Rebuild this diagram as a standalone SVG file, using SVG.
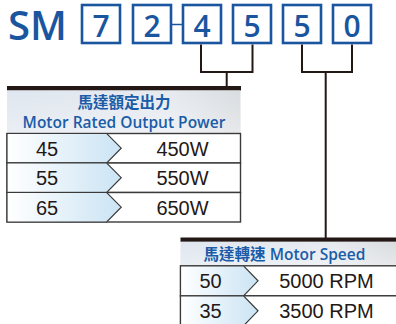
<svg xmlns="http://www.w3.org/2000/svg" width="396" height="324" viewBox="0 0 396 324">
<defs>
<linearGradient id="hdr" x1="0" y1="0" x2="1" y2="0">
<stop offset="0" stop-color="#dfe6ef"/>
<stop offset="0.7" stop-color="#e6eaf0"/>
<stop offset="1" stop-color="#d9dcdf"/>
</linearGradient>
<linearGradient id="hdrv" x1="0" y1="0" x2="0" y2="1">
<stop offset="0" stop-color="#ffffff" stop-opacity="0"/>
<stop offset="1" stop-color="#ffffff" stop-opacity="0.35"/>
</linearGradient>
<linearGradient id="cell" x1="0" y1="0" x2="1" y2="0">
<stop offset="0" stop-color="#ffffff"/>
<stop offset="1" stop-color="#cbe4f4"/>
</linearGradient>
<style>
.box{fill:#fff;stroke:#1a56a0;stroke-width:2.6}
.dig{font-family:"Open Sans","DejaVu Sans",sans-serif;font-weight:600;font-size:30px;fill:#1a56a0;text-anchor:middle}
.con{fill:none;stroke:#231815;stroke-width:2}
.bar{fill:#231815}
.row{fill:#fff;stroke:#3a3a3a;stroke-width:1.4}
.chev{fill:url(#cell);stroke:#3a3a3a;stroke-width:1.2}
.val{font-family:"Liberation Sans",Arial,sans-serif;font-size:20px;fill:#231815;text-anchor:middle}
.hd{font-family:"Open Sans","Noto Sans CJK TC",sans-serif;font-weight:600;font-size:15.5px;fill:#1a5ca8;text-anchor:middle}
</style>
</defs>
<g id="model">
<text x="8" y="40" font-family="Open Sans, DejaVu Sans, sans-serif" font-weight="600" font-size="40" fill="#1a56a0">SM</text>
</g>
<g id="code-boxes">
<g id="box-7"><rect class="box" x="82" y="5" width="38" height="38"/><text class="dig" x="101" y="37">7</text></g>
<g id="box-2"><rect class="box" x="133" y="5" width="38" height="38"/><text class="dig" x="152" y="37">2</text></g>
<g id="box-4"><rect class="box" x="183" y="5" width="38" height="38"/><text class="dig" x="202" y="37">4</text></g>
<g id="box-5a"><rect class="box" x="233" y="5" width="38" height="38"/><text class="dig" x="252" y="37">5</text></g>
<g id="box-5b"><rect class="box" x="283" y="5" width="38" height="38"/><text class="dig" x="302" y="37">5</text></g>
<g id="box-0"><rect class="box" x="333" y="5" width="38" height="38"/><text class="dig" x="352" y="37">0</text></g>
</g>
<g id="connectors">
<line x1="171" y1="24.5" x2="183" y2="24.5" stroke="#1a56a0" stroke-width="1.5"/>
<path class="con" d="M201,44.5 V72 H252.5 V44.5 M226.7,72 V87"/>
<path class="con" d="M302,44.5 V72 H352 V44.5 M325.7,72 V238"/>
</g>
<g id="power-table">
<rect class="bar" x="7" y="86" width="234" height="4.5"/>
<rect x="7" y="90.5" width="233.5" height="43" fill="url(#hdr)"/>
<rect x="7" y="90.5" width="233.5" height="43" fill="url(#hdrv)"/>
<text class="hd" x="124" y="108">馬達額定出力</text>
<text class="hd" x="124" y="128">Motor Rated Output Power</text>
<g id="row-45">
<rect class="row" x="7" y="133.5" width="233.5" height="29.5"/>
<path class="chev" d="M7,133.5 H106.7 L121.2,148.2 L106.7,163 H7 Z"/>
<text class="val" x="47" y="155.5">45</text><text class="val" x="182.5" y="155.5">450W</text>
</g>
<g id="row-55">
<rect class="row" x="7" y="163" width="233.5" height="29.5"/>
<path class="chev" d="M7,163 H106.7 L121.2,177.7 L106.7,192.5 H7 Z"/>
<text class="val" x="47" y="185">55</text><text class="val" x="182.5" y="185">550W</text>
</g>
<g id="row-65">
<rect class="row" x="7" y="192.5" width="233.5" height="29.5"/>
<path class="chev" d="M7,192.5 H106.7 L121.2,207.2 L106.7,222 H7 Z"/>
<text class="val" x="47" y="214.5">65</text><text class="val" x="182.5" y="214.5">650W</text>
</g>
</g>
<g id="speed-table">
<rect class="bar" x="180.5" y="237.5" width="216" height="4.3"/>
<rect x="180.5" y="241.8" width="216" height="24" fill="url(#hdr)"/>
<rect x="180.5" y="241.8" width="216" height="24" fill="url(#hdrv)"/>
<text class="hd" x="284.5" y="259.5">馬達轉速 Motor Speed</text>
<g id="row-50">
<rect class="row" x="180.5" y="265.8" width="220" height="30"/>
<path class="chev" d="M180.5,265.8 H243.5 L258,280.8 L243.5,295.8 H180.5 Z"/>
<text class="val" x="210.5" y="288.3">50</text><text class="val" x="326.5" y="288.3">5000 RPM</text>
</g>
<g id="row-35">
<rect class="row" x="180.5" y="295.8" width="220" height="30"/>
<path class="chev" d="M180.5,295.8 H243.5 L258,310.8 L243.5,325.8 H180.5 Z"/>
<text class="val" x="210.5" y="318.3">35</text><text class="val" x="326.5" y="318.3">3500 RPM</text>
</g>
</g>
</svg>
